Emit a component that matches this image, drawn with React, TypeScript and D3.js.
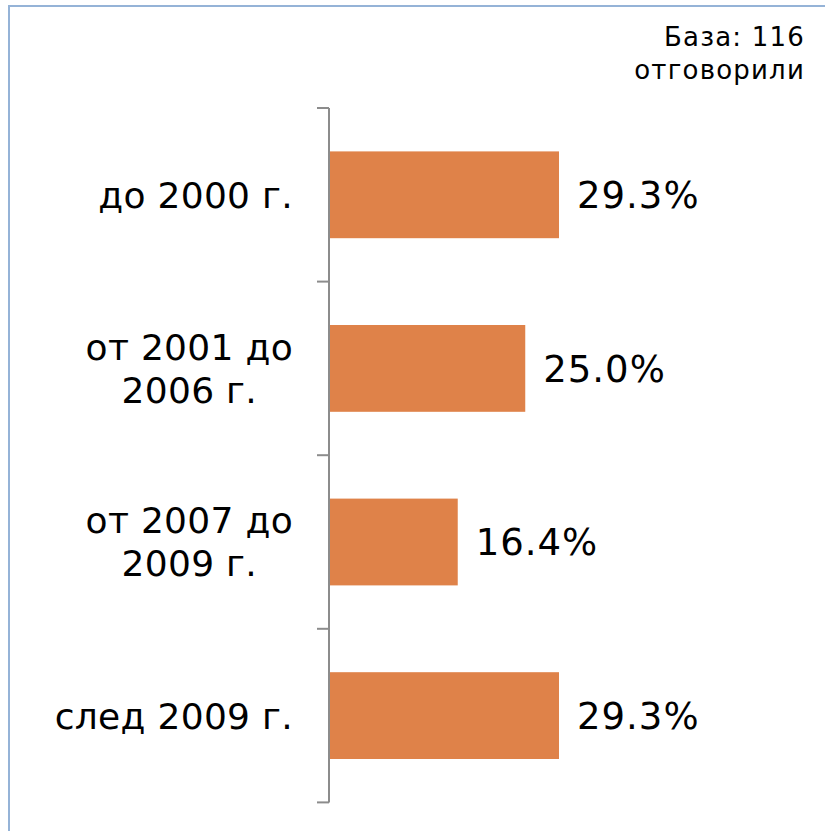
import React from "react";
import * as d3 from "d3";

const categories: string[][] = [
  ["до 2000 г."],
  ["от 2001 до", "2006 г."],
  ["от 2007 до", "2009 г."],
  ["след 2009 г."],
];
const values: number[] = [29.3, 25.0, 16.4, 29.3];
const baseLines: string[] = ["База: 116", "отговорили"];

const W = 825;
const H = 831;
const FONT = "'DejaVu Sans', Verdana, sans-serif";
const CAT_SIZE = 36;
const CAT_LS = 0.3;

let ctx: CanvasRenderingContext2D | null = null;
function measure(t: string, size: number, ls: number): number {
  if (!ctx && typeof document !== "undefined") {
    ctx = document.createElement("canvas").getContext("2d");
  }
  if (!ctx) return t.length * size * 0.6;
  ctx.font = `${size}px 'DejaVu Sans'`;
  return ctx.measureText(t).width + ls * t.length;
}

export default function App() {
  const keys = categories.map((c, i) => String(i));
  const y = d3
    .scaleBand<string>()
    .domain(keys)
    .range([108, 802.4])
    .paddingInner(0.5)
    .paddingOuter(0.25);
  const x = d3.scaleLinear().domain([0, 30]).range([329, 564.5]);
  const step = y.step();
  const top = 108;
  const tickYs = d3.range(categories.length + 1).map((i) => top + i * step);
  const labelRight = 293;

  return (
    <svg
      width={W}
      height={H}
      style={{ position: "absolute", left: 0, top: 0, background: "#fff" }}
    >
      <rect x={9} y={6} width={W + 20} height={H + 20} fill="#fff" stroke="#95B3D7" strokeWidth={2} />
      <g fontFamily={FONT} fill="#000">
        {baseLines.map((t, i) => (
          <text key={i} x={805} y={46 + i * 33} textAnchor="end" fontSize={26} letterSpacing={1.2}>
            {t}
          </text>
        ))}
      </g>
      {values.map((v, i) => (
        <rect
          key={i}
          x={x(0)}
          y={y(String(i))}
          width={x(v) - x(0)}
          height={y.bandwidth()}
          fill="#DF8249"
        />
      ))}
      <line x1={329} x2={329} y1={top} y2={tickYs[tickYs.length - 1]} stroke="#8C8C8C" strokeWidth={2} />
      {tickYs.map((ty, i) => (
        <line key={i} x1={317} x2={329} y1={ty} y2={ty} stroke="#8C8C8C" strokeWidth={2} />
      ))}
      <g fontFamily={FONT} fill="#000">
        {categories.map((lines, i) => {
          const cy = (y(String(i)) as number) + y.bandwidth() / 2;
          const lh = 43;
          const start = cy - ((lines.length - 1) * lh) / 2;
          const multi = lines.length > 1;
          const maxW = Math.max(...lines.map((l) => measure(l, CAT_SIZE, CAT_LS)));
          const ax = multi ? labelRight - maxW / 2 : labelRight;
          return (
            <text
              key={i}
              x={ax}
              textAnchor={multi ? "middle" : "end"}
              fontSize={CAT_SIZE}
              letterSpacing={CAT_LS}
            >
              {lines.map((l, j) => (
                <tspan key={j} x={ax} y={start + j * lh} dy="0.36em">
                  {l}
                </tspan>
              ))}
            </text>
          );
        })}
        {values.map((v, i) => (
          <text
            key={i}
            x={x(v) + 18}
            y={(y(String(i)) as number) + y.bandwidth() / 2}
            dy="0.36em"
            fontSize={37}
            letterSpacing={1}
          >
            {v.toFixed(1) + "%"}
          </text>
        ))}
      </g>
    </svg>
  );
}
